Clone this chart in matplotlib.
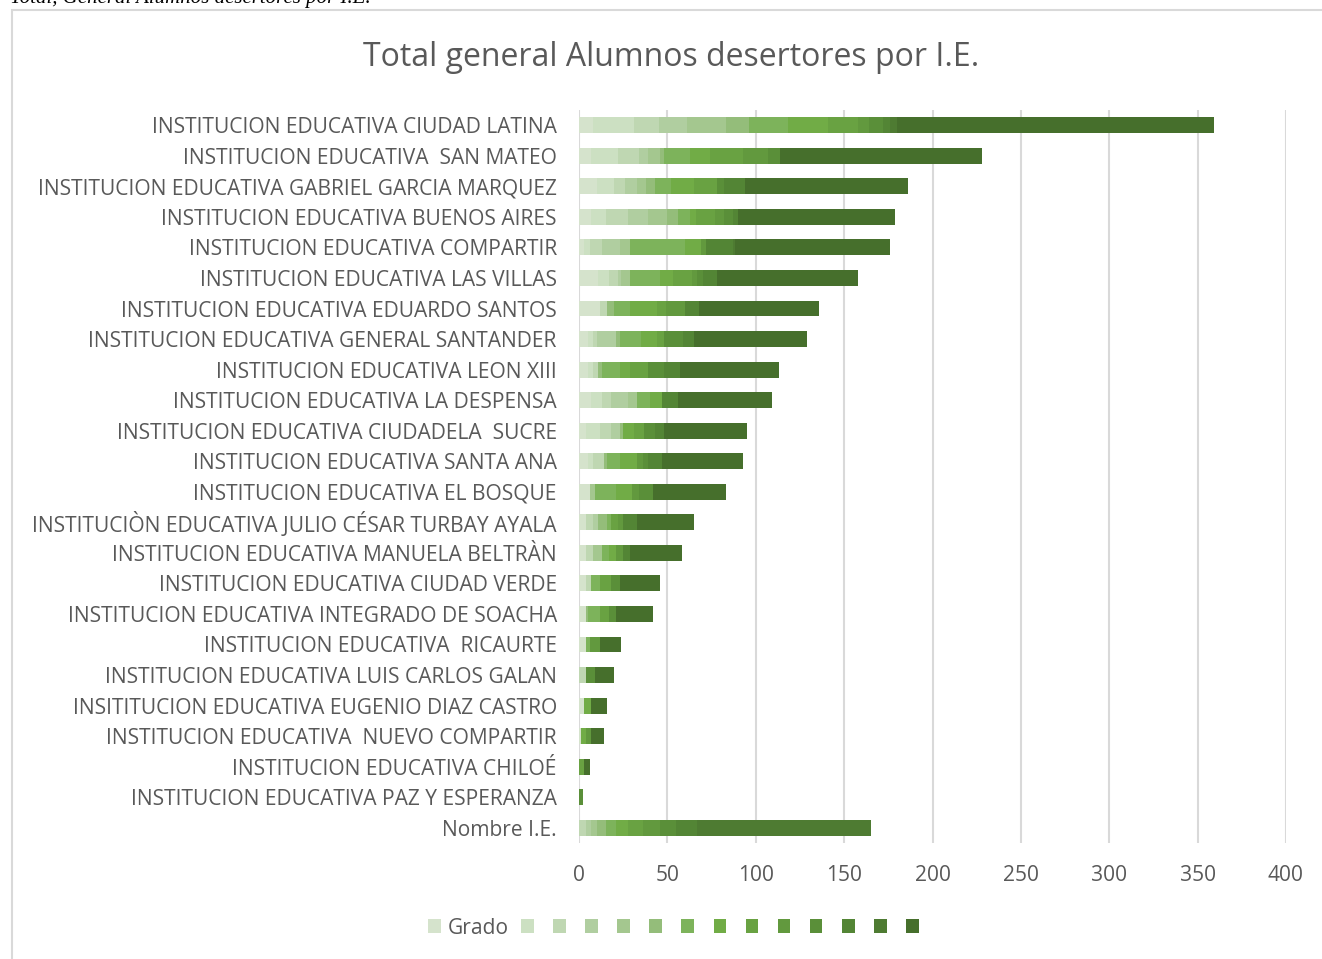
import matplotlib
matplotlib.use("Agg")
import matplotlib.pyplot as plt
import numpy as np
from matplotlib.patches import Rectangle, Patch

# ---------------- data ----------------
instituciones = [
    "INSTITUCION EDUCATIVA CIUDAD LATINA",
    "INSTITUCION EDUCATIVA  SAN MATEO",
    "INSTITUCION EDUCATIVA GABRIEL GARCIA MARQUEZ",
    "INSTITUCION EDUCATIVA BUENOS AIRES",
    "INSTITUCION EDUCATIVA COMPARTIR",
    "INSTITUCION EDUCATIVA LAS VILLAS",
    "INSTITUCION EDUCATIVA EDUARDO SANTOS",
    "INSTITUCION EDUCATIVA GENERAL SANTANDER",
    "INSTITUCION EDUCATIVA LEON XIII",
    "INSTITUCION EDUCATIVA LA DESPENSA",
    "INSTITUCION EDUCATIVA CIUDADELA  SUCRE",
    "INSTITUCION EDUCATIVA SANTA ANA",
    "INSTITUCION EDUCATIVA EL BOSQUE",
    "INSTITUCIÒN EDUCATIVA JULIO CÉSAR TURBAY AYALA",
    "INSTITUCION EDUCATIVA MANUELA BELTRÀN",
    "INSTITUCION EDUCATIVA CIUDAD VERDE",
    "INSTITUCION EDUCATIVA INTEGRADO DE SOACHA",
    "INSTITUCION EDUCATIVA  RICAURTE",
    "INSTITUCION EDUCATIVA LUIS CARLOS GALAN",
    "INSITITUCION EDUCATIVA EUGENIO DIAZ CASTRO",
    "INSTITUCION EDUCATIVA  NUEVO COMPARTIR",
    "INSTITUCION EDUCATIVA CHILOÉ",
    "INSTITUCION EDUCATIVA PAZ Y ESPERANZA",
    "Nombre I.E.",
]

# one list per stacked series (14 series), values per institution (top to bottom)
serie_01 = [8, 7, 10, 7, 3, 11, 12, 5, 5, 7, 4, 5, 6, 4, 4, 4, 4, 4, 0, 3, 1, 0, 0, 0]
serie_02 = [23, 15, 10, 8, 3, 6, 0, 3, 3, 6, 8, 3, 0, 0, 0, 0, 0, 0, 0, 0, 0, 0, 0, 0]
serie_03 = [14, 12, 6, 13, 7, 5, 4, 2, 3, 5, 6, 6, 0, 4, 4, 3, 0, 0, 4, 0, 0, 0, 0, 4]
serie_04 = [16, 5, 7, 11, 10, 2, 0, 11, 0, 10, 5, 0, 0, 3, 0, 0, 0, 0, 0, 0, 0, 0, 0, 3]
serie_05 = [22, 7, 5, 11, 6, 5, 0, 0, 0, 5, 0, 0, 3, 0, 5, 0, 0, 0, 0, 0, 0, 0, 0, 3]
serie_06 = [13, 2, 5, 6, 0, 0, 4, 2, 2, 0, 2, 2, 0, 5, 0, 0, 1, 0, 0, 0, 0, 0, 0, 5]
serie_07 = [22, 15, 9, 7, 31, 17, 9, 12, 10, 7, 0, 7, 12, 2, 4, 5, 7, 2, 0, 0, 0, 0, 0, 6]
serie_08 = [23, 11, 13, 3, 9, 7, 15, 9, 6, 7, 6, 10, 9, 0, 4, 0, 0, 0, 0, 4, 3, 0, 0, 7]
serie_09 = [17, 19, 13, 11, 0, 11, 5, 4, 10, 0, 6, 0, 0, 4, 0, 6, 5, 0, 0, 0, 0, 3, 0, 8]
serie_10 = [6, 14, 0, 5, 3, 3, 11, 0, 0, 0, 0, 3, 4, 3, 4, 0, 0, 6, 0, 0, 3, 0, 0, 10]
serie_11 = [8, 7, 4, 5, 0, 3, 0, 11, 9, 0, 6, 3, 8, 0, 0, 5, 4, 0, 5, 0, 0, 0, 2, 9]
serie_12 = [4, 0, 12, 3, 15, 8, 8, 6, 9, 9, 5, 8, 0, 8, 4, 0, 0, 0, 0, 0, 0, 0, 0, 12]
serie_13 = [4, 0, 0, 0, 1, 0, 0, 0, 0, 0, 0, 0, 0, 0, 0, 0, 0, 0, 0, 0, 0, 0, 0, 98]
serie_14 = [179, 114, 92, 89, 88, 80, 68, 64, 56, 53, 47, 46, 41, 32, 29, 23, 21, 12, 11, 9, 7, 3, 0, 0]

series = [serie_01, serie_02, serie_03, serie_04, serie_05, serie_06, serie_07,
          serie_08, serie_09, serie_10, serie_11, serie_12, serie_13, serie_14]
series_labels = ["Grado"] + [""] * 13

colores = ["#d5e3cc", "#cce0c2", "#bfd7b2", "#b0cea0", "#a4c78f", "#94bd7a", "#7db35b",
           "#71ac46", "#69a242", "#62993e", "#5a8f39", "#538535", "#4e7b32", "#466f2c"]

x_ticks = [0, 50, 100, 150, 200, 250, 300, 350, 400]
titulo = "Total general Alumnos desertores por I.E."
texto_superior = "Total, General Alumnos desertores por I.E."

# ---------------- figure ----------------
W, H = 1322, 959
fig = plt.figure(figsize=(W / 100, H / 100), dpi=100)
fig.patch.set_facecolor("white")

FONT = "Open Sans"
GRAY = "#595959"
FS = 15.1

# chart border (partially cut off like in the screenshot)
fig.add_artist(Rectangle((12 / W, -0.05), 1.2, 1 - 10 / H + 0.05, transform=fig.transFigure,
                         facecolor="none", edgecolor="#d9d9d9", linewidth=1.5))

# caption cut at the top edge
fig.text(10 / W, 1 - 3 / H, texto_superior, family="Liberation Serif", style="italic",
         fontsize=15, color="black", va="baseline", ha="left")

ax = fig.add_axes([579 / W, 1 - 843 / H, (1286 - 579) / W, (843 - 110) / H])
y = np.arange(len(instituciones))
left = np.zeros(len(instituciones))
for vals, col, lab in zip(series, colores, series_labels):
    v = np.array(vals, dtype=float)
    ax.barh(y, v, left=left, height=0.52, color=col, edgecolor="none")
    left += v

ax.set_xlim(0, 400)
ax.set_ylim(len(instituciones) - 0.5, -0.5)
ax.set_xticks(x_ticks)
ax.set_yticks(y)
ax.set_yticklabels(instituciones, family=FONT, fontsize=FS, color=GRAY)
for lbl in ax.get_xticklabels():
    lbl.set_family(FONT)
ax.tick_params(axis="x", length=0, pad=16, labelsize=FS, labelcolor=GRAY)
ax.tick_params(axis="y", length=0, pad=16)
ax.xaxis.grid(True, color="#d9d9d9", linewidth=1.5)
ax.set_axisbelow(True)
for s in ax.spines.values():
    s.set_visible(False)

fig.text(671 / W, 1 - 58 / H, titulo, family=FONT, fontsize=23, color=GRAY,
         ha="center", va="center")

handles = [Patch(facecolor=c, edgecolor="none") for c in colores]
leg = fig.legend(handles, series_labels, loc="center", bbox_to_anchor=(677 / W, 1 - 928 / H),
                 ncol=14, frameon=False, prop={"family": FONT, "size": FS},
                 handlelength=0.6, handleheight=0.6, handletextpad=0.35, columnspacing=0.58,
                 labelcolor=GRAY)

fig.savefig("out.png", dpi=100, facecolor="white")
